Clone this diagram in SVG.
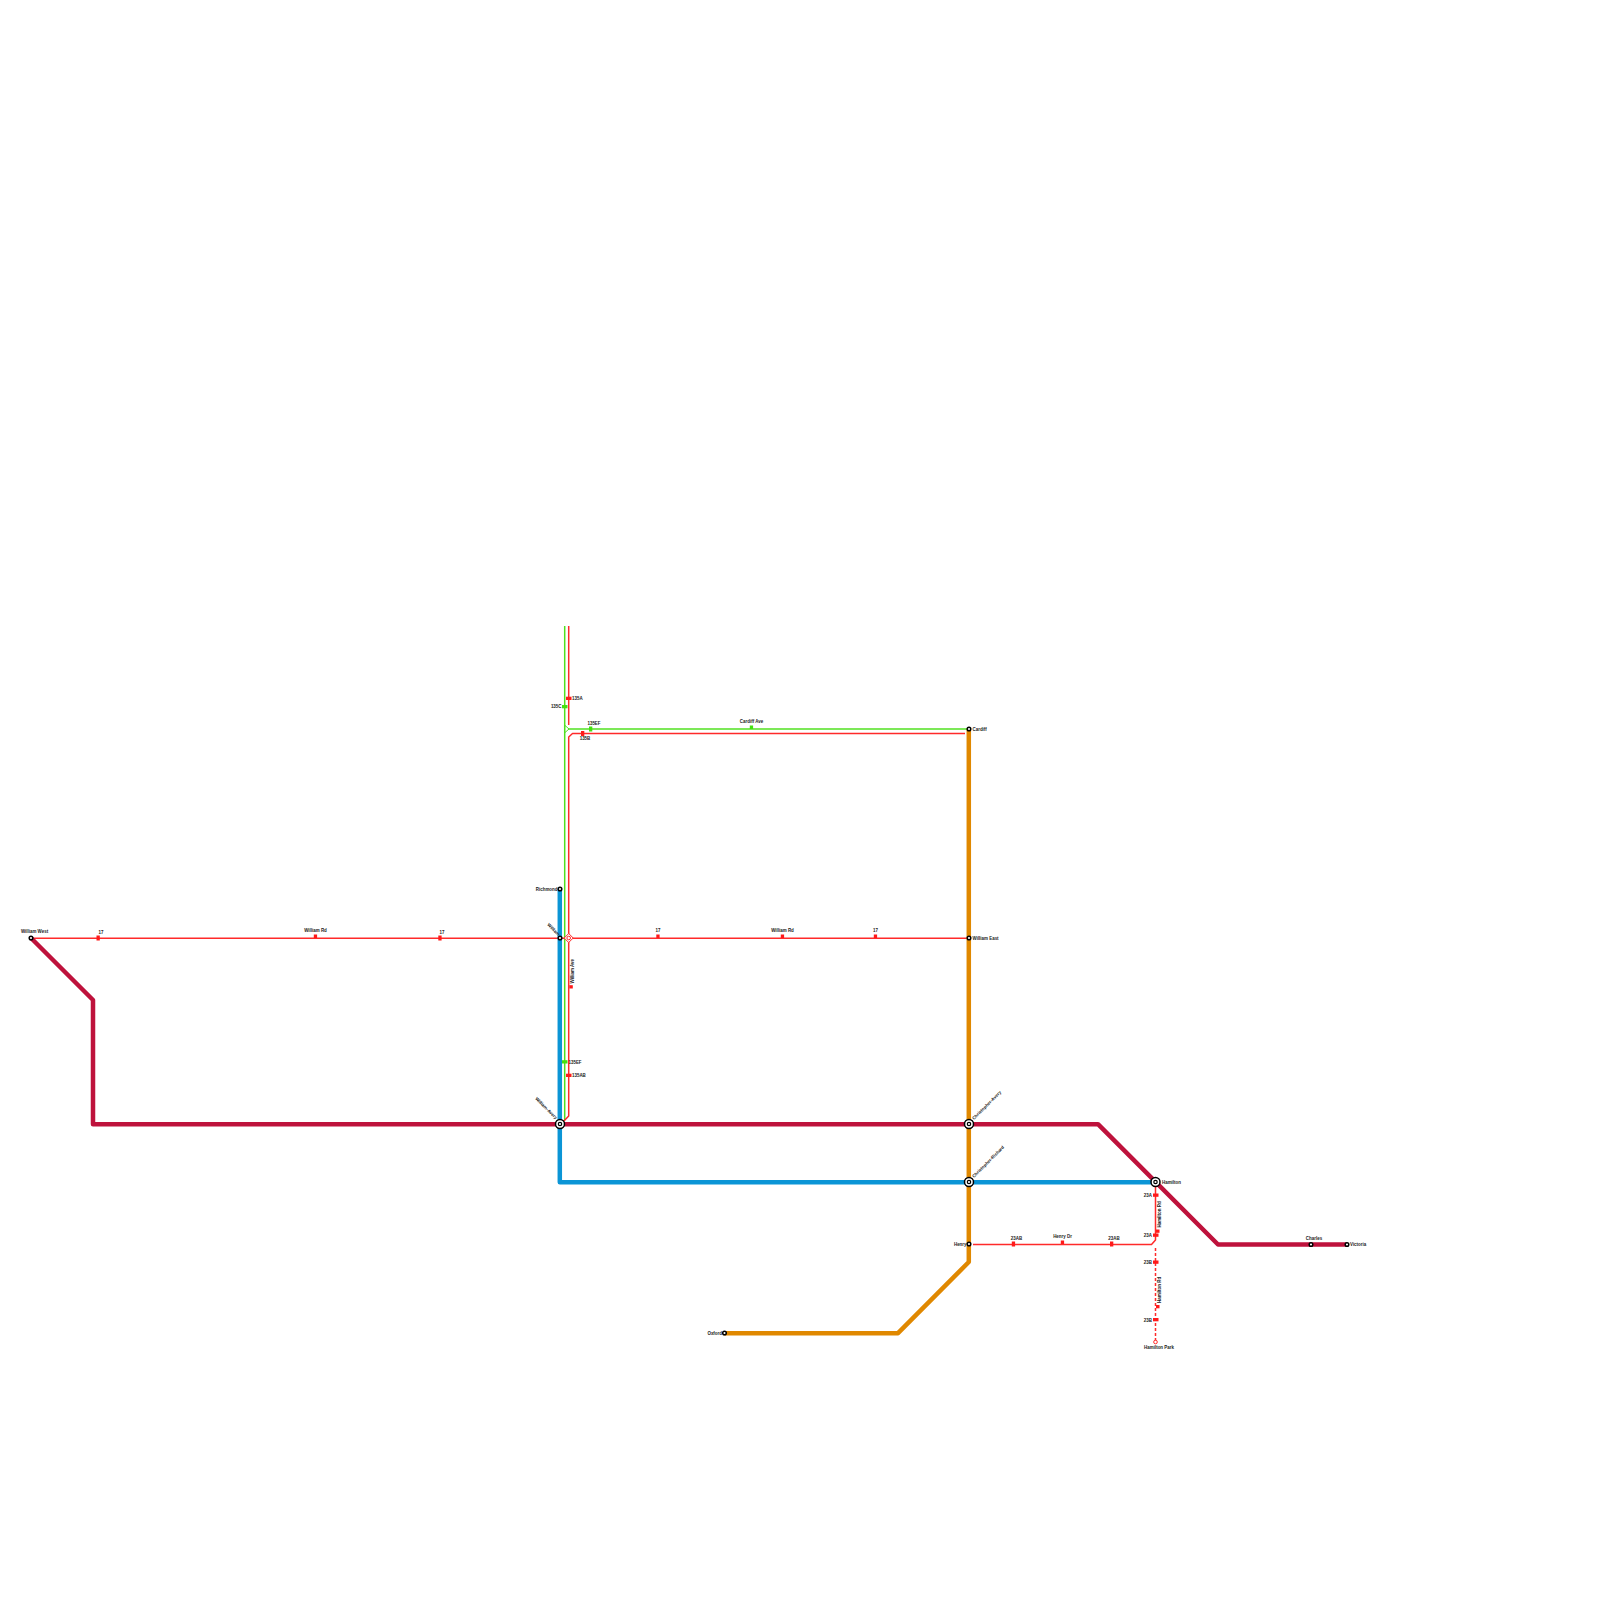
<svg xmlns="http://www.w3.org/2000/svg" width="1600" height="1600" viewBox="0 0 1600 1600">
<style>
text{font-family:"Liberation Sans",Arial,sans-serif;font-size:4.450px;fill:#222;font-weight:700}
.m{text-anchor:middle}.e{text-anchor:end}
.l{fill:none;stroke-linejoin:round;stroke-linecap:butt}
.t{stroke-width:4.500}.r{stroke:#ff2a2a;stroke-width:1.500}.g{stroke:#50e020;stroke-width:1.500}
.st{fill:#fff;stroke:#000;stroke-width:1.500}
.in{fill:#fff;stroke:#000;stroke-width:1.200}
.rm{fill:#ff1a1a}.gm{fill:#44e010}
</style>
<rect width="1600" height="1600" fill="#fff"/>
<g id="connectors">
<path class="l g" d="M564.700 626V1120"/>
<path class="l g" d="M564.700 729H969"/>
<path class="l r" d="M568.700 626V725"/>
<path class="l r" d="M965 733.500H572.500L568.700 737V1116L563 1122"/>
<path class="l r" d="M31 938.200H969"/>
<path class="l r" d="M973 1244.500H1151.500L1155.500 1240V1186"/>
<path class="l r" d="M1155.500 1248V1342" stroke-dasharray="3 2"/>
<path class="l t" stroke="#0b95d6" d="M559.800 889V1182.200H1155"/>
<path class="l t" stroke="#e08800" d="M968.800 729V1262L898 1333.200H724"/>
<path class="l t" stroke="#be123c" d="M31 938L93 1000V1124.200H1098L1218 1244.500H1347"/>
</g>
<g id="marker-135A"><rect class="rm" x="566" y="696.700" width="5.500" height="3.300"/><text x="572" y="699.500">135A</text></g>
<g id="marker-135C"><rect class="gm" x="562" y="705" width="5.500" height="3.300"/><text class="e" x="561.500" y="708.300">135C</text></g>
<g id="node-green-junction"><path d="M565 725.500L569 729L565 732.500Z" fill="#fff" stroke="#50e020" stroke-width="1"/></g>
<g id="marker-135EF-top"><rect class="gm" x="589" y="726.500" width="3.300" height="5"/><text class="m" x="594" y="724.500">135EF</text></g>
<g id="marker-135B"><rect class="rm" x="581" y="731" width="3.300" height="5"/><text class="m" x="585" y="740">135B</text></g>
<g id="marker-cardiff-ave"><rect class="gm" x="749.800" y="725.500" width="3.300" height="3.500"/><text class="m" x="751.500" y="722.500">Cardiff Ave</text></g>
<g id="marker-17-a"><rect class="rm" x="96.500" y="935.500" width="3.300" height="5"/><text class="m" x="101" y="933.500">17</text></g>
<g id="marker-william-rd-a"><rect class="rm" x="313.800" y="934.500" width="3.300" height="3.500"/><text class="m" x="315.500" y="931.500">William Rd</text></g>
<g id="marker-17-b"><rect class="rm" x="438.300" y="935.500" width="3.300" height="5"/><text class="m" x="442" y="933.500">17</text></g>
<g id="marker-17-c"><rect class="rm" x="656.300" y="934.500" width="3.300" height="3.500"/><text class="m" x="658" y="931.500">17</text></g>
<g id="marker-william-rd-b"><rect class="rm" x="780.800" y="934.500" width="3.300" height="3.500"/><text class="m" x="782.500" y="931.500">William Rd</text></g>
<g id="marker-17-d"><rect class="rm" x="873.800" y="934.500" width="3.300" height="3.500"/><text class="m" x="875.500" y="931.500">17</text></g>
<g id="marker-william-ave"><rect class="rm" x="569.300" y="985.200" width="3.500" height="3.300"/><text transform="translate(573.500,983.500) rotate(-90)">William Ave</text></g>
<g id="marker-135EF-bottom"><rect class="gm" x="562" y="1060.200" width="5.500" height="3.300"/><text x="568.500" y="1063.500">135EF</text></g>
<g id="marker-135AB"><rect class="rm" x="566" y="1073.700" width="5.500" height="3.300"/><text x="572" y="1077">135AB</text></g>
<g id="marker-23AB-a"><rect class="rm" x="1011.800" y="1241.500" width="3.300" height="5"/><text class="m" x="1016.500" y="1239.500">23AB</text></g>
<g id="marker-henry-dr"><rect class="rm" x="1060.800" y="1240.500" width="3.300" height="3.500"/><text class="m" x="1062.500" y="1237.500">Henry Dr</text></g>
<g id="marker-23AB-b"><rect class="rm" x="1110" y="1241.500" width="3.300" height="5"/><text class="m" x="1114" y="1239.500">23AB</text></g>
<g id="marker-23A-a"><rect class="rm" x="1153" y="1193.500" width="5.500" height="3.300"/><text class="e" x="1152" y="1197">23A</text></g>
<g id="marker-hamilton-rd-a"><rect class="rm" x="1156" y="1229.500" width="3.500" height="3.300"/><text transform="translate(1160.500,1227.500) rotate(-90)">Hamilton Rd</text></g>
<g id="marker-23A-b"><rect class="rm" x="1153" y="1233.500" width="5.500" height="3.300"/><text class="e" x="1152" y="1237">23A</text></g>
<g id="marker-23B-a"><rect class="rm" x="1153" y="1260.500" width="5.500" height="3.300"/><text class="e" x="1152" y="1264">23B</text></g>
<g id="marker-hamilton-rd-b"><rect class="rm" x="1156" y="1305" width="3.500" height="3.300"/><text transform="translate(1160.500,1303) rotate(-90)">Hamilton Rd</text></g>
<g id="marker-23B-b"><rect class="rm" x="1153" y="1318" width="5.500" height="3.300"/><text class="e" x="1152" y="1321.500">23B</text></g>
<g id="node-hamilton-park"><circle cx="1155.500" cy="1342" r="1.800" fill="#fff" stroke="#ff2a2a" stroke-width="1"/><text class="m" x="1159" y="1349">Hamilton Park</text></g>
<g id="node-william-west"><circle class="st" cx="31" cy="938" r="1.800"/><text class="m" x="34.500" y="933">William West</text></g>
<g id="node-richmond"><circle class="st" cx="560" cy="889" r="1.800"/><text class="e" x="557.500" y="890.500">Richmond</text></g>
<g id="node-william"><circle class="st" cx="560" cy="938" r="1.800"/><text class="e" transform="translate(558,936) rotate(45)">William</text></g>
<g id="node-william-interchange"><path d="M568.700 933.500L573.200 938L568.700 942.500L564.200 938Z" fill="#fff" stroke="#ff2a2a" stroke-width="1"/><circle cx="568.700" cy="938" r="1.800" fill="#fff" stroke="#ff2a2a" stroke-width="1"/></g>
<g id="node-william-avery"><circle class="st" cx="560" cy="1124" r="4.500"/><circle class="in" cx="560" cy="1124" r="1.700"/><text class="e" transform="translate(555.500,1119.500) rotate(45)">William-Avery</text></g>
<g id="node-cardiff"><circle class="st" cx="969" cy="729" r="1.800"/><text x="972.500" y="730.500">Cardiff</text></g>
<g id="node-william-east"><circle class="st" cx="969" cy="938" r="1.800"/><text x="972.500" y="939.500">William East</text></g>
<g id="node-christopher-avery"><circle class="st" cx="969" cy="1124" r="4.500"/><circle class="in" cx="969" cy="1124" r="1.700"/><text transform="translate(974,1120) rotate(-45)">Christopher-Avery</text></g>
<g id="node-christopher-richard"><circle class="st" cx="969" cy="1182" r="4.500"/><circle class="in" cx="969" cy="1182" r="1.700"/><text transform="translate(974,1178) rotate(-45)">Christopher-Richard</text></g>
<g id="node-henry"><circle class="st" cx="969" cy="1244" r="1.800"/><text class="e" x="966.500" y="1245.500">Henry</text></g>
<g id="node-oxford"><circle class="st" cx="724.500" cy="1333" r="1.800"/><text class="e" x="722" y="1334.500">Oxford</text></g>
<g id="node-hamilton"><circle class="st" cx="1155.500" cy="1182" r="4.500"/><circle class="in" cx="1155.500" cy="1182" r="1.700"/><text x="1162" y="1183.500">Hamilton</text></g>
<g id="node-charles"><circle class="st" cx="1311" cy="1244.500" r="1.800"/><text class="m" x="1314" y="1239.500">Charles</text></g>
<g id="node-victoria"><circle class="st" cx="1347" cy="1244.500" r="1.800"/><text x="1350" y="1246">Victoria</text></g>
</svg>
